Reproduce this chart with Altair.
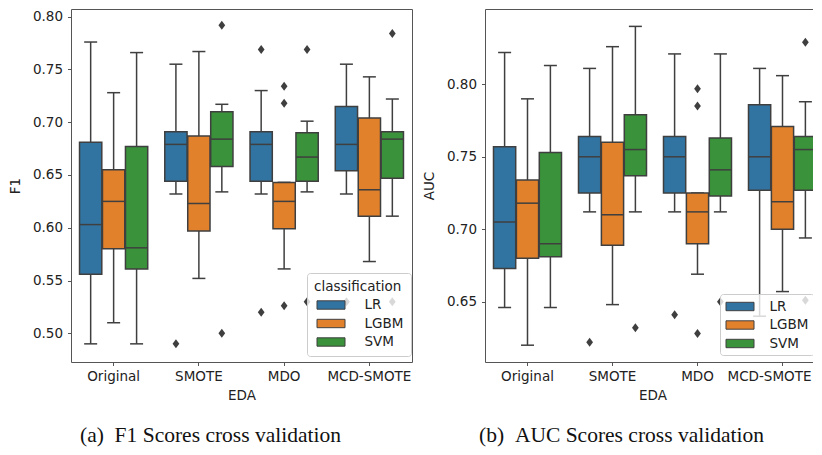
import altair as alt
import pandas as pd

EDA = ["Original", "SMOTE", "MDO", "MCD-SMOTE"]
CLF = ["LR", "LGBM", "SVM"]
COLORS = ["#3274a1", "#e1812c", "#3a923a"]
LINE = "#3f3f3f"

# ---- F1 box statistics (rows: EDA, columns: LR, LGBM, SVM)
F1_LOW = [[0.490, 0.510, 0.490], [0.632, 0.552, 0.634], [0.632, 0.561, 0.634], [0.632, 0.568, 0.611]]
F1_Q1 = [[0.556, 0.580, 0.561], [0.644, 0.597, 0.658], [0.644, 0.599, 0.644], [0.654, 0.611, 0.647]]
F1_MED = [[0.603, 0.625, 0.581], [0.679, 0.623, 0.684], [0.679, 0.625, 0.667], [0.679, 0.636, 0.684]]
F1_Q3 = [[0.681, 0.655, 0.677], [0.691, 0.687, 0.710], [0.691, 0.643, 0.690], [0.715, 0.704, 0.691]]
F1_HIGH = [[0.776, 0.728, 0.766], [0.755, 0.767, 0.717], [0.730, 0.643, 0.701], [0.755, 0.743, 0.722]]
F1_OUT_EDA = ["SMOTE", "SMOTE", "SMOTE", "MDO", "MDO", "MDO", "MDO", "MDO", "MDO", "MDO",
              "MCD-SMOTE", "MCD-SMOTE", "MCD-SMOTE"]
F1_OUT_CLF = ["LR", "SVM", "SVM", "LR", "LR", "LGBM", "LGBM", "LGBM", "SVM", "SVM", "LR", "SVM", "SVM"]
F1_OUT_VAL = [0.490, 0.792, 0.500, 0.769, 0.520, 0.734, 0.718, 0.526, 0.769, 0.530, 0.530, 0.784, 0.530]

# ---- AUC box statistics
AUC_LOW = [[0.646, 0.620, 0.646], [0.712, 0.648, 0.712], [0.712, 0.669, 0.712], [0.640, 0.657, 0.694]]
AUC_Q1 = [[0.673, 0.680, 0.681], [0.725, 0.689, 0.737], [0.725, 0.690, 0.723], [0.727, 0.700, 0.727]]
AUC_MED = [[0.705, 0.718, 0.690], [0.750, 0.710, 0.755], [0.750, 0.712, 0.741], [0.750, 0.719, 0.755]]
AUC_Q3 = [[0.757, 0.734, 0.753], [0.764, 0.760, 0.779], [0.764, 0.725, 0.763], [0.786, 0.771, 0.764]]
AUC_HIGH = [[0.822, 0.790, 0.813], [0.811, 0.826, 0.840], [0.821, 0.725, 0.821], [0.811, 0.806, 0.788]]
AUC_OUT_EDA = ["SMOTE", "SMOTE", "MDO", "MDO", "MDO", "MDO", "MDO", "MCD-SMOTE", "MCD-SMOTE"]
AUC_OUT_CLF = ["LR", "SVM", "LR", "LGBM", "LGBM", "LGBM", "SVM", "SVM", "SVM"]
AUC_OUT_VAL = [0.622, 0.632, 0.641, 0.797, 0.785, 0.628, 0.650, 0.829, 0.651]

F1_TICKS = [0.50, 0.55, 0.60, 0.65, 0.70, 0.75, 0.80]
AUC_TICKS = [0.65, 0.70, 0.75, 0.80]

DIAMOND = "M0,-1L0.75,0L0,1L-0.75,0Z"
PATCH = "M-2,-0.6L2,-0.6L2,0.6L-2,0.6Z"


def stats_frame(low, q1, med, q3, high):
    rows = []
    for i, e in enumerate(EDA):
        for j, c in enumerate(CLF):
            rows.append({"EDA": e, "clf": c, "low": low[i][j], "q1": q1[i][j],
                         "median": med[i][j], "q3": q3[i][j], "high": high[i][j]})
    return pd.DataFrame(rows)


def out_frame(eda, clf, val):
    return pd.DataFrame({"EDA": eda, "clf": clf, "value": val})


def panel(stats, outs, ytitle, ydomain, yticks, width, height, xscale, xlabel_offset, legend, caption):
    base = alt.Chart(stats)
    x = alt.X("EDA:N", sort=EDA, scale=xscale,
              axis=alt.Axis(title="EDA", labelAngle=0, labelOffset=xlabel_offset))
    xo = alt.XOffset("clf:N", sort=CLF,
                     scale=alt.Scale(domain=CLF, paddingInner=0.03, paddingOuter=0))
    ysc = alt.Scale(domain=ydomain, nice=False, zero=False)
    yax = alt.Axis(values=yticks, format=".2f")

    def Y(field):
        return alt.Y(field, type="quantitative", scale=ysc, axis=yax, title=ytitle)

    wl = base.mark_rule(color=LINE, strokeWidth=1.5).encode(x=x, xOffset=xo, y=Y("low"), y2="q1:Q")
    wh = base.mark_rule(color=LINE, strokeWidth=1.5).encode(x=x, xOffset=xo, y=Y("q3"), y2="high:Q")
    cl = base.mark_tick(color=LINE, size=13, thickness=1.5, opacity=1).encode(x=x, xOffset=xo, y=Y("low"))
    ch = base.mark_tick(color=LINE, size=13, thickness=1.5, opacity=1).encode(x=x, xOffset=xo, y=Y("high"))
    box = base.mark_bar(stroke=LINE, strokeWidth=1.5, opacity=1).encode(
        x=x, xOffset=xo, y=Y("q1"), y2="q3:Q",
        color=alt.Color("clf:N", sort=CLF, scale=alt.Scale(domain=CLF, range=COLORS), legend=legend))
    med = base.mark_tick(color=LINE, size=22, thickness=1.5, opacity=1).encode(x=x, xOffset=xo, y=Y("median"))
    pts = alt.Chart(outs).mark_point(shape=DIAMOND, filled=True, color=LINE, size=81, opacity=1).encode(
        x=x, xOffset=xo, y=Y("value"))
    return alt.layer(wl, wh, cl, ch, box, med, pts).properties(
        width=width, height=height,
        title=alt.TitleParams(caption, orient="bottom", anchor="middle", frame="bounds",
                              font="Liberation Serif", fontSize=21.5, fontWeight="normal",
                              color="#111111", offset=23.5))


def legend_params(title, lx, ly, pad, sym_off, lab_off):
    kw = dict(orient="none", legendX=lx, legendY=ly, padding=pad,
              fillColor="rgba(255,255,255,0.8)", strokeColor="#cccccc", cornerRadius=3,
              symbolType=PATCH, symbolSize=196, symbolOffset=sym_off,
              symbolStrokeColor=LINE, symbolStrokeWidth=1, symbolOpacity=1,
              labelOffset=lab_off, labelFontSize=13.5, labelColor="#222222",
              rowPadding=4.5)
    if title is None:
        kw["title"] = None
    else:
        kw.update(title=title, titleFontSize=13.5, titleFontWeight="normal",
                  titleColor="#222222", titlePadding=4)
    return alt.Legend(**kw)


f1_stats = stats_frame(F1_LOW, F1_Q1, F1_MED, F1_Q3, F1_HIGH)
f1_out = out_frame(F1_OUT_EDA, F1_OUT_CLF, F1_OUT_VAL)
auc_stats = stats_frame(AUC_LOW, AUC_Q1, AUC_MED, AUC_Q3, AUC_HIGH)
auc_out = out_frame(AUC_OUT_EDA, AUC_OUT_CLF, AUC_OUT_VAL)

left = panel(f1_stats, f1_out, "F1", [0.4728, 0.8073], F1_TICKS, 341, 353,
             alt.Scale(domain=EDA, paddingInner=0.2, paddingOuter=0.1), 0,
             legend_params("classification", 236, 264, 7, 9.5, 26),
             "(a)\u00a0\u00a0F1 Scores cross validation")

# last tick label nudged left so it stays readable where the panel is cropped
last_label_shift = {"condition": {"test": "datum.value === 'MCD-SMOTE'", "value": -13}, "value": 0}

right = panel(auc_stats, auc_out, "AUC", [0.6084, 0.8520], AUC_TICKS, 335, 353,
              alt.Scale(domain=EDA, paddingInner=0.2, paddingOuter=0.0706, align=0.708),
              last_label_shift,
              legend_params(None, 235, 285, 5, 7.5, 22),
              "(b)\u00a0\u00a0AUC Scores cross validation")

# the right-hand panel runs past the page edge in the original figure:
# a negative right padding crops it the same way
chart = alt.hconcat(left, right, spacing=9).resolve_scale(
    x="independent", y="independent", color="independent", xOffset="independent"
).resolve_legend(color="independent").properties(
    padding={"left": 0, "top": 0, "right": -8, "bottom": 0}
).configure(font="DejaVu Sans").configure_view(
    stroke="#555555", strokeWidth=1
).configure_axis(
    grid=False, domain=False, tickColor="#555555", tickSize=3.5, tickWidth=1,
    labelFontSize=13.5, labelColor="#222222", titleFontSize=13.5, titleFontWeight="normal",
    titleColor="#222222", labelFont="DejaVu Sans", titleFont="DejaVu Sans"
).configure_axisY(labelPadding=5, titlePadding=9.5).configure_axisX(
    labelPadding=3.5, titlePadding=5.5)

chart.save("out.html", embed_options={"renderer": "svg", "actions": False})
